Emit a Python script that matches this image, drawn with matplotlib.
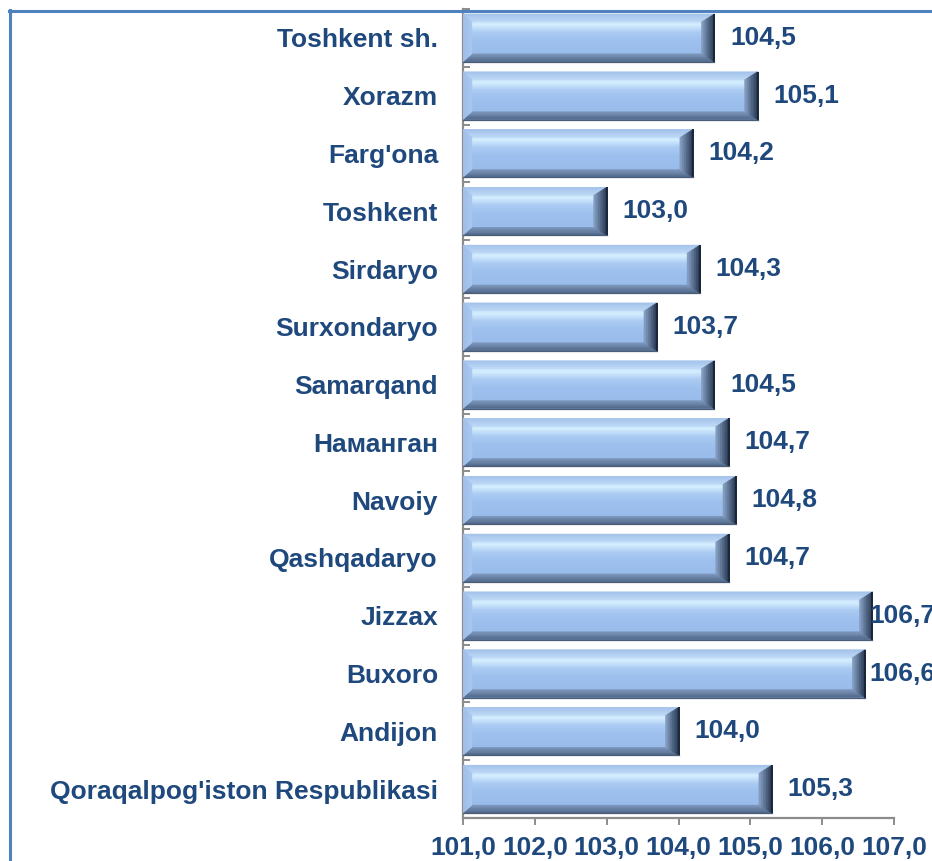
import matplotlib
matplotlib.use("Agg")
import matplotlib.pyplot as plt
import numpy as np
from matplotlib.colors import LinearSegmentedColormap, to_rgb
from matplotlib.patches import Polygon
from matplotlib.lines import Line2D

# ------------------------------------------------------------
# DATEN
# ------------------------------------------------------------
regions = [
    "Toshkent sh.", "Xorazm", "Farg'ona", "Toshkent", "Sirdaryo",
    "Surxondaryo", "Samarqand", "Наманган", "Navoiy", "Qashqadaryo",
    "Jizzax", "Buxoro", "Andijon", "Qoraqalpog'iston Respublikasi",
]
values = [104.5, 105.1, 104.2, 103.0, 104.3, 103.7, 104.5,
          104.7, 104.8, 104.7, 106.7, 106.6, 104.0, 105.3]
value_labels = ["104,5", "105,1", "104,2", "103,0", "104,3", "103,7", "104,5",
                "104,7", "104,8", "104,7", "106,7", "106,6", "104,0", "105,3"]
x_ticks = [101, 102, 103, 104, 105, 106, 107]
x_tick_labels = ["101,0", "102,0", "103,0", "104,0", "105,0", "106,0", "107,0"]

BASE = 101.0
TEXT = "#1F497D"
GREY = "#8C8C8C"

plt.rcParams["font.family"] = ["Liberation Sans", "DejaVu Sans"]
plt.rcParams["font.weight"] = "bold"

fig = plt.figure(figsize=(9.32, 8.61), dpi=100)
ax = fig.add_axes([463 / 932, 1 - 818 / 861, (894 - 463) / 932, (818 - 9) / 861])

n = len(regions)
ypos = np.arange(n)[::-1]
bar_h = 0.83

# Verlauf fuer die Balkenflaeche (oben -> unten)
face_cmap = LinearSegmentedColormap.from_list("face", [
    (0.00, "#B5D2F5"), (0.15, "#C8E4FC"), (0.22, "#D4EEFE"), (0.38, "#ABCBF3"),
    (0.55, "#9DC0EE"), (1.00, "#97BAEA"),
])
grad = np.linspace(0, 1, 64).reshape(-1, 1)

BX = 13 / 71.83   # Fasenbreite rechts (x, Dateneinheiten)
LX = 9 / 71.83    # Fasenbreite links
BY = 8 / 57.65    # Fasenhoehe oben/unten (y)


def mix(c0, c1, t):
    a, b = np.array(to_rgb(c0)), np.array(to_rgb(c1))
    return tuple(a + (b - a) * t)


def bevel(ax, x0, x1, y0, y1, side, c_in, c_out, k=6):
    # Fase in k Streifen, von innen (c_in) nach aussen (c_out)
    for i in range(k):
        ta, tb = i / k, (i + 1) / k
        col = mix(c_in, c_out, (i + 0.5) / k)
        if side == "right":
            xa, xb = x1 - BX * (1 - ta), x1 - BX * (1 - tb)
            pts = [(xa, y0 + BY * (1 - ta)), (xb, y0 + BY * (1 - tb)),
                   (xb, y1 - BY * (1 - tb)), (xa, y1 - BY * (1 - ta))]
        elif side == "left":
            xa, xb = x0 + LX * (1 - ta), x0 + LX * (1 - tb)
            pts = [(xa, y0 + BY * (1 - ta)), (xb, y0 + BY * (1 - tb)),
                   (xb, y1 - BY * (1 - tb)), (xa, y1 - BY * (1 - ta))]
        elif side == "top":
            ya, yb = y1 - BY * (1 - ta), y1 - BY * (1 - tb)
            pts = [(x0 + LX * (1 - ta), ya), (x0 + LX * (1 - tb), yb),
                   (x1 - BX * (1 - tb), yb), (x1 - BX * (1 - ta), ya)]
        else:
            ya, yb = y0 + BY * (1 - ta), y0 + BY * (1 - tb)
            pts = [(x0 + LX * (1 - ta), ya), (x0 + LX * (1 - tb), yb),
                   (x1 - BX * (1 - tb), yb), (x1 - BX * (1 - ta), ya)]
        ax.add_patch(Polygon(pts, closed=True, facecolor=col, edgecolor=col,
                             lw=0.3, zorder=4))


bars = ax.barh(ypos, np.array(values) - BASE, left=BASE, height=bar_h,
               color="#9DC0EE", edgecolor="none", zorder=2)

for b in bars:
    x0, y0 = b.get_x(), b.get_y()
    x1, y1 = x0 + b.get_width(), y0 + b.get_height()
    ax.imshow(grad, cmap=face_cmap, extent=(x0, x1, y0, y1), aspect="auto",
              interpolation="bilinear", zorder=3)
    bevel(ax, x0, x1, y0, y1, "top", "#BFDAF8", "#A4C2EA")
    bevel(ax, x0, x1, y0, y1, "bottom", "#7F99BE", "#4E6586")
    bevel(ax, x0, x1, y0, y1, "left", "#A9C9F2", "#9FBDE6")
    bevel(ax, x0, x1, y0, y1, "right", "#8AA5CA", "#24344C")
    ax.plot([x1, x1], [y0, y1], color="#18263A", lw=1.4, zorder=5, solid_capstyle="butt")
    ax.plot([x0, x1], [y0, y0], color="#4A5D76", lw=0.9, zorder=5)

# Wertbeschriftungen (rechts am Rand nach links geschoben, wie im Original)
for yv, v, lab in zip(ypos, values, value_labels):
    xt = min(v + 0.22, 106.66)
    ax.text(xt, yv, lab, ha="left", va="center", fontsize=19, fontweight="bold",
            color=TEXT, zorder=6, clip_on=False)

ax.set_xlim(BASE, 107)
ax.set_ylim(-0.5, n - 0.5)
ax.set_xticks(x_ticks)
ax.set_xticklabels(x_tick_labels)
ax.set_yticks(ypos)
ax.set_yticklabels(regions)
ax.set_yticks(np.arange(-0.5, n, 1.0), minor=True)

for s in ["top", "right"]:
    ax.spines[s].set_visible(False)
for s in ["left", "bottom"]:
    ax.spines[s].set_color(GREY)
    ax.spines[s].set_linewidth(1.6)

ax.tick_params(axis="y", which="major", length=4, direction="in", color=GREY, width=1.4,
               pad=18, labelsize=19, labelcolor=TEXT)
ax.tick_params(axis="y", which="minor", length=5, direction="in", color=GREY, width=1.4)
ax.tick_params(axis="x", which="major", length=5, direction="out", color=GREY, width=1.4,
               pad=8, labelsize=19, labelcolor=TEXT)
for t in ax.get_xticklabels() + ax.get_yticklabels():
    t.set_fontweight("bold")

# blauer Rahmen oben und links
fig.add_artist(Line2D([9 / 932, 1.0], [1 - 10.5 / 861, 1 - 10.5 / 861],
                      transform=fig.transFigure, color="#4F81BD", lw=2.2))
fig.add_artist(Line2D([9.5 / 932, 9.5 / 932], [1 - 10 / 861, 0.0],
                      transform=fig.transFigure, color="#4F81BD", lw=2.2))

fig.savefig("out.png", dpi=100)
